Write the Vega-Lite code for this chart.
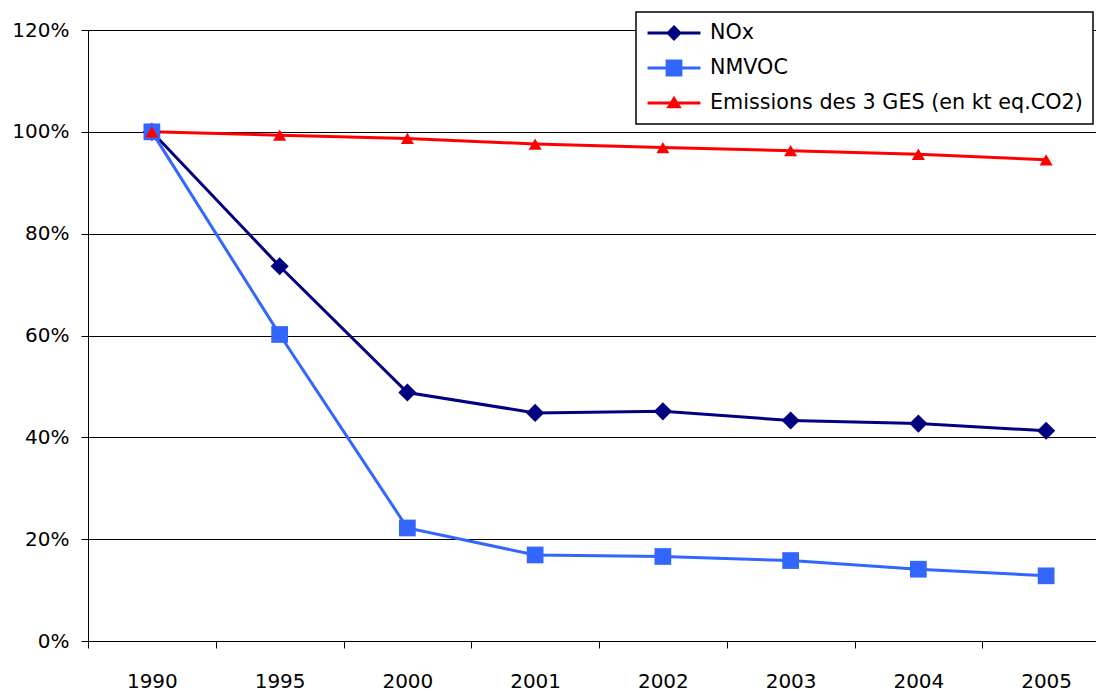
{
  "$schema": "https://vega.github.io/schema/vega-lite/v6.json",
  "autosize": {"type": "none"},
  "padding": {"left": 88, "top": 30, "right": 0, "bottom": 50},
  "width": 1022,
  "height": 611,
  "background": "white",
  "config": {
    "view": {"stroke": null},
    "font": "DejaVu Sans",
    "axis": {
      "labelFont": "DejaVu Sans",
      "labelFontSize": 20,
      "labelColor": "black",
      "domainColor": "black",
      "tickColor": "black",
      "gridColor": "black",
      "gridOpacity": 1,
      "gridWidth": 1,
      "domainWidth": 1,
      "tickWidth": 1,
      "title": null
    }
  },
  "data": {
    "values": [
      {"year": "1990", "series": "NOx", "value": 1.0},
      {"year": "1995", "series": "NOx", "value": 0.736},
      {"year": "2000", "series": "NOx", "value": 0.488},
      {"year": "2001", "series": "NOx", "value": 0.448},
      {"year": "2002", "series": "NOx", "value": 0.451},
      {"year": "2003", "series": "NOx", "value": 0.433},
      {"year": "2004", "series": "NOx", "value": 0.427},
      {"year": "2005", "series": "NOx", "value": 0.413},
      {"year": "1990", "series": "NMVOC", "value": 1.0},
      {"year": "1995", "series": "NMVOC", "value": 0.602},
      {"year": "2000", "series": "NMVOC", "value": 0.222},
      {"year": "2001", "series": "NMVOC", "value": 0.169},
      {"year": "2002", "series": "NMVOC", "value": 0.166},
      {"year": "2003", "series": "NMVOC", "value": 0.158},
      {"year": "2004", "series": "NMVOC", "value": 0.141},
      {"year": "2005", "series": "NMVOC", "value": 0.128},
      {"year": "1990", "series": "Emissions des 3 GES (en kt eq.CO2)", "value": 1.0},
      {"year": "1995", "series": "Emissions des 3 GES (en kt eq.CO2)", "value": 0.9935},
      {"year": "2000", "series": "Emissions des 3 GES (en kt eq.CO2)", "value": 0.987},
      {"year": "2001", "series": "Emissions des 3 GES (en kt eq.CO2)", "value": 0.976},
      {"year": "2002", "series": "Emissions des 3 GES (en kt eq.CO2)", "value": 0.969},
      {"year": "2003", "series": "Emissions des 3 GES (en kt eq.CO2)", "value": 0.963},
      {"year": "2004", "series": "Emissions des 3 GES (en kt eq.CO2)", "value": 0.956},
      {"year": "2005", "series": "Emissions des 3 GES (en kt eq.CO2)", "value": 0.945}
    ]
  },
  "encoding": {
    "x": {
      "field": "year",
      "type": "ordinal",
      "scale": {"paddingInner": 0, "paddingOuter": 0},
      "axis": {
        "labelAngle": 0,
        "tickBand": "extent",
        "tickSize": 7,
        "labelPadding": 23,
        "grid": false
      }
    },
    "y": {
      "field": "value",
      "type": "quantitative",
      "scale": {"domain": [0, 1.2], "nice": false},
      "axis": {
        "values": [0, 0.2, 0.4, 0.6, 0.8, 1.0, 1.2],
        "format": ".0%",
        "tickSize": 7,
        "labelPadding": 12,
        "grid": true
      }
    }
  },
  "layer": [
    {
      "mark": {"type": "line", "strokeWidth": 3},
      "encoding": {
        "color": {
          "field": "series",
          "type": "nominal",
          "scale": {
            "domain": ["NOx", "NMVOC", "Emissions des 3 GES (en kt eq.CO2)"],
            "range": ["#000080", "#3366FF", "#FF0000"]
          },
          "legend": {
            "title": null,
            "orient": "none",
            "legendX": 548,
            "legendY": -18,
            "direction": "vertical",
            "strokeColor": "black",
            "fillColor": "white",
            "padding": 10,
            "labelFont": "DejaVu Sans",
            "labelFontSize": 20.7,
            "labelColor": "black",
            "labelOffset": 8,
            "rowPadding": 13,
            "clipHeight": 22,
            "symbolSize": 2800,
            "labelLimit": 500,
            "encode": {
              "legend": {"update": {"strokeWidth": {"value": 1.5}}},
              "symbols": {
                "update": {
                  "shape": {"signal": "datum.value === 'NOx' ? 'M-1,0H1M0,-0.22L0.22,0L0,0.22L-0.22,0Z' : datum.value === 'NMVOC' ? 'M-1,0H1M-0.26,-0.26H0.26V0.26H-0.26Z' : 'M-1,0H1M0,-0.17L0.19,0.14L-0.19,0.14Z'"},
                  "size": {"value": 2800},
                  "stroke": {"signal": "datum.value === 'NOx' ? '#000080' : datum.value === 'NMVOC' ? '#3366FF' : '#FF0000'"},
                  "fill": {"signal": "datum.value === 'NOx' ? '#000080' : datum.value === 'NMVOC' ? '#3366FF' : '#FF0000'"},
                  "strokeWidth": {"value": 3},
                  "opacity": {"value": 1},
                  "fillOpacity": {"value": 1},
                  "strokeOpacity": {"value": 1}
                }
              }
            }
          }
        }
      }
    },
    {
      "transform": [{"filter": "datum.series === 'NOx'"}],
      "mark": {"type": "point", "filled": true, "opacity": 1, "shape": "diamond", "size": 330, "color": "#000080"}
    },
    {
      "transform": [{"filter": "datum.series === 'NMVOC'"}],
      "mark": {"type": "point", "filled": true, "opacity": 1, "shape": "square", "size": 280, "color": "#3366FF"}
    },
    {
      "transform": [{"filter": "datum.series === 'Emissions des 3 GES (en kt eq.CO2)'"}],
      "mark": {"type": "point", "filled": true, "opacity": 1, "shape": "triangle-up", "size": 170, "color": "#FF0000"}
    }
  ]
}
